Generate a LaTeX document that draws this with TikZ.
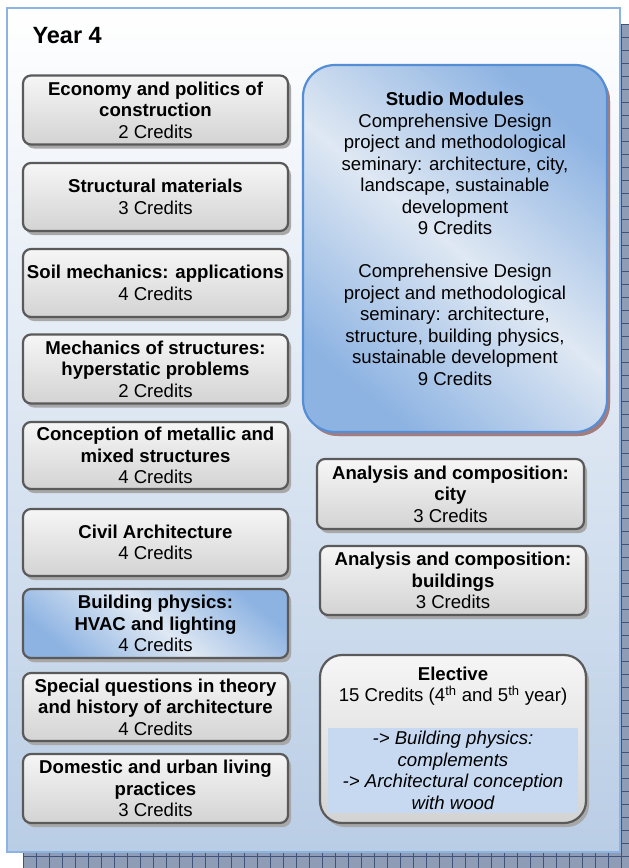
\documentclass[tikz,border=0pt]{standalone}
\usepackage{fontspec}
\setmainfont{Liberation Sans}
\usetikzlibrary{shadows}

\definecolor{frameline}{HTML}{8DB3E2}
\definecolor{frametop}{HTML}{FFFFFF}
\definecolor{framebot}{HTML}{B9CDE5}
\definecolor{outershadow}{HTML}{8E9DB5}
\definecolor{outergrid}{HTML}{3F5478}
\definecolor{boxline}{HTML}{5A5A5A}
\definecolor{boxtop}{HTML}{F6F6F6}
\definecolor{boxbot}{HTML}{D3D3D3}
\definecolor{boxshadow}{HTML}{A8A8A8}
\definecolor{bluedark}{HTML}{8DB3E2}
\definecolor{bluelight}{HTML}{DFE8F3}
\definecolor{blueline}{HTML}{558ED5}
\definecolor{studioshadow}{HTML}{A47C7E}
\definecolor{innerfill}{HTML}{C6D9F1}

\tikzset{
  course/.style={draw=boxline, line width=2.2pt, rounded corners=8pt,
    top color=boxtop, bottom color=boxbot, inner sep=0pt, align=center,
    drop shadow={shadow xshift=3pt, shadow yshift=-4pt, fill=boxshadow, opacity=1}},
  leftcol/.style={course, minimum width=265pt},
  bluecourse/.style={course, top color=bluedark, bottom color=bluedark,
    middle color=bluelight, shading angle=-40},
  plain/.style={inner sep=0pt, align=center},
}

\begin{document}
\begin{tikzpicture}[x=1pt, y=-1pt, font=\fontsize{18.6}{21.5}\selectfont]
\useasboundingbox (0,0) rectangle (629,868);

% shadow of the outer frame, with its grid
\begin{scope}
  \clip (0,0) rectangle (629,868);
  \fill[outershadow] (23,24) rectangle (650,890);
  \foreach \i in {0,...,48} {
    \draw[outergrid, line width=0.6pt] (23+13*\i,24) -- (23+13*\i,890);
  }
  \foreach \j in {0,...,67} {
    \draw[outergrid, line width=0.6pt] (23,24+13*\j) -- (650,24+13*\j);
  }
\end{scope}

% outer frame
\node[draw=frameline, line width=1.5pt, top color=frametop, bottom color=framebot,
      minimum width=613pt, minimum height=844pt, inner sep=0pt] (frame) at (313.5,430) {};

\node[anchor=base west, font=\bfseries\fontsize{23.5}{28}\selectfont] (title) at (29,43) {Year 4};

% left column
\node[leftcol, minimum height=69pt] (econ) at (155.5,110)
  {\textbf{Economy and politics of}\\\textbf{construction}\\2 Credits};
\node[leftcol, minimum height=68pt] (struct) at (155.5,197)
  {\textbf{Structural materials}\\3 Credits};
\node[leftcol, minimum height=68pt] (soil) at (155.5,283)
  {\textbf{Soil mechanics: applications}\\4 Credits};
\node[leftcol, minimum height=69pt] (mech) at (155.5,369)
  {\textbf{Mechanics of structures:}\\\textbf{hyperstatic problems}\\2 Credits};
\node[leftcol, minimum height=67pt] (conc) at (155.5,455.5)
  {\textbf{Conception of metallic and}\\\textbf{mixed structures}\\4 Credits};
\node[leftcol, minimum height=67pt] (civil) at (155.5,542.5)
  {\textbf{Civil Architecture}\\4 Credits};
\node[leftcol, bluecourse, minimum height=69pt] (phys) at (155.5,623.5)
  {\textbf{Building physics:}\\\textbf{HVAC and lighting}\\4 Credits};
\node[leftcol, minimum height=68pt] (spec) at (155.5,707)
  {\textbf{Special questions in theory}\\\textbf{and history of architecture}\\4 Credits};
\node[leftcol, minimum height=69pt] (dom) at (155.5,788.5)
  {\textbf{Domestic and urban living}\\\textbf{practices}\\3 Credits};

% studio modules
\node[bluecourse, draw=blueline, rounded corners=32pt,
      drop shadow={shadow xshift=3pt, shadow yshift=-4pt, fill=studioshadow, opacity=1},
      minimum width=304pt, minimum height=367pt] (studio) at (455,248.5) {};
\node[plain] (studiotext) at (455,239)
  {\textbf{Studio Modules}\\
   Comprehensive Design\\
   project and methodological\\
   seminary: architecture, city,\\
   landscape, sustainable\\
   development\\
   9 Credits\\[21.5pt]
   Comprehensive Design\\
   project and methodological\\
   seminary: architecture,\\
   structure, building physics,\\
   sustainable development\\
   9 Credits};

% right column
\node[course, minimum width=267pt, minimum height=70pt] (city) at (450.5,494)
  {\textbf{Analysis and composition:}\\\textbf{city}\\3 Credits};
\node[course, minimum width=266pt, minimum height=69pt] (bldg) at (453,580.5)
  {\textbf{Analysis and composition:}\\\textbf{buildings}\\3 Credits};

% elective
\node[course, rounded corners=22pt, minimum width=266pt, minimum height=168pt] (elective) at (453,739) {};
\node[plain] (electhead) at (453,686)
  {\textbf{Elective}\\15 Credits (4\textsuperscript{th} and 5\textsuperscript{th} year)};
\node[plain, fill=innerfill, minimum width=250pt, minimum height=85pt, font=\itshape\fontsize{18.6}{21.5}\selectfont] (electlist) at (453,770.5)
  {-> Building physics:\\complements\\-> Architectural conception\\with wood};

\end{tikzpicture}
\end{document}
